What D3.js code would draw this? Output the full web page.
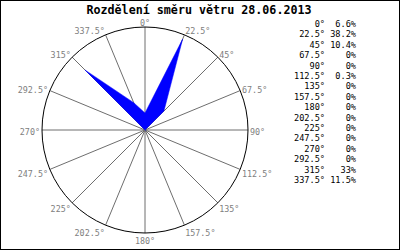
<!DOCTYPE html>
<html>
<head>
<meta charset="utf-8">
<script src="https://cdn.jsdelivr.net/npm/d3@7"></script>
<style>
  body { margin: 0; background: #fff; }
  svg text { font-family: "DejaVu Sans Mono", "Liberation Mono", monospace; }
</style>
</head>
<body>
<div id="chart"></div>
<script>
const title = "Rozdělení směru větru 28.06.2013";
const directions = [0, 22.5, 45, 67.5, 90, 112.5, 135, 157.5, 180, 202.5, 225, 247.5, 270, 292.5, 315, 337.5];
const shares = [6.6, 38.2, 10.4, 0, 0, 0.3, 0, 0, 0, 0, 0, 0, 0, 0, 33, 11.5];
const maxShare = 40;

(function () {
  const w = 400;
  const h = 250;
  const cx = 145;
  const cy = 130;
  const radius = 103;

  const svg = d3.select("#chart")
    .append("svg")
    .attr("width", w)
    .attr("height", h);

  svg.append("rect")
    .attr("x", 0.5)
    .attr("y", 0.5)
    .attr("width", w - 1)
    .attr("height", h - 1)
    .attr("fill", "#fff")
    .attr("stroke", "#000")
    .attr("shape-rendering", "crispEdges");

  svg.append("text")
    .attr("x", 199)
    .attr("y", 14)
    .attr("text-anchor", "middle")
    .attr("font-size", "11.7px")
    .attr("font-weight", "bold")
    .attr("fill", "#000")
    .text(title);

  const rScale = d3.scaleLinear().domain([0, maxShare]).range([0, radius]);
  const rad = (d) => d * Math.PI / 180;

  const g = svg.append("g")
    .attr("transform", "translate(" + cx + "," + cy + ")");

  // spokes
  g.selectAll("line.spoke")
    .data(directions)
    .enter()
    .append("line")
    .attr("class", "spoke")
    .attr("x1", 0)
    .attr("y1", 0)
    .attr("x2", (d) => Math.sin(rad(d)) * rScale(maxShare))
    .attr("y2", (d) => -Math.cos(rad(d)) * rScale(maxShare))
    .attr("stroke", "#6e6e6e")
    .attr("stroke-width", 1);

  g.append("circle")
    .attr("r", rScale(maxShare))
    .attr("fill", "none")
    .attr("stroke", "#000")
    .attr("stroke-width", 1);

  // wind polygon
  const radial = d3.lineRadial()
    .angle((d, i) => rad(directions[i]))
    .radius((d) => rScale(d))
    .curve(d3.curveLinearClosed);

  g.append("path")
    .datum(shares)
    .attr("d", radial)
    .attr("fill", "#0000ff")
    .attr("stroke", "#0000ff")
    .attr("stroke-width", 0.5);

  // angle labels
  g.selectAll("text.lbl")
    .data(directions)
    .enter()
    .append("text")
    .attr("class", "lbl")
    .attr("x", (d) => Math.sin(rad(d)) * (radius + 2))
    .attr("y", (d) => 2 - Math.cos(rad(d)) * (radius + 6))
    .attr("dy", "0.35em")
    .attr("text-anchor", (d) => {
      const s = Math.sin(rad(d));
      return s > 0.01 ? "start" : (s < -0.01 ? "end" : "middle");
    })
    .attr("font-size", "8.4px")
    .attr("fill", "#808080")
    .text((d) => d + "°");

  // legend
  const yRow = d3.scaleLinear().domain([0, directions.length - 1]).range([24, 180]);

  const rows = svg.selectAll("g.row")
    .data(directions)
    .enter()
    .append("g")
    .attr("class", "row")
    .attr("transform", (d, i) => "translate(0," + yRow(i) + ")");

  rows.append("text")
    .attr("x", 325)
    .attr("dy", "0.35em")
    .attr("text-anchor", "end")
    .attr("font-size", "8.6px")
    .attr("fill", "#000")
    .text((d) => d + "°");

  rows.append("text")
    .attr("x", 356)
    .attr("dy", "0.35em")
    .attr("text-anchor", "end")
    .attr("font-size", "8.6px")
    .attr("fill", "#000")
    .text((d, i) => shares[i] + "%");
})();
</script>
</body>
</html>
